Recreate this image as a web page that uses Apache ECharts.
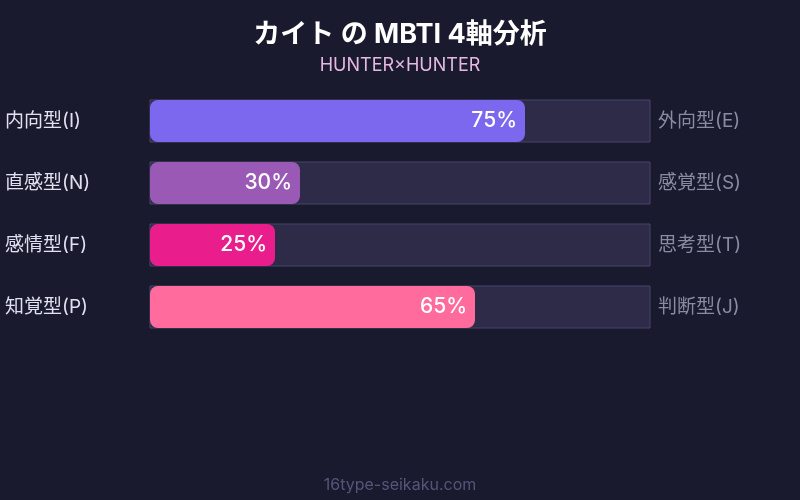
<!DOCTYPE html>
<html>
<head>
<meta charset="utf-8">
<script src="https://cdn.jsdelivr.net/npm/echarts@6/dist/echarts.min.js"></script>
<style>
  html, body { margin: 0; padding: 0; background: #1a1a2e; }
  #chart { width: 800px; height: 500px; }
</style>
</head>
<body>
<div id="chart"></div>
<script>
// 各軸のラベルと値
const leftLabels = ['内向型(I)', '直感型(N)', '感情型(F)', '知覚型(P)'];
const rightLabels = ['外向型(E)', '感覚型(S)', '思考型(T)', '判断型(J)'];
const values = [75, 30, 25, 65];

const barColors = ['#7b68ee', '#9b59b6', '#e91e8c', '#ff6b9d'];
const FONT = 'Inter, "Noto Sans CJK JP", sans-serif';

const chart = echarts.init(document.getElementById('chart'));

chart.setOption({
    backgroundColor: '#1a1a2e',
    animation: false,
    title: [
        {
            text: 'カイト の MBTI 4軸分析',
            left: 'center',
            top: 16,
            textStyle: { color: '#ffffff', fontSize: 27, fontWeight: 'bold', fontFamily: FONT }
        },
        {
            text: 'HUNTER×HUNTER',
            left: 'center',
            top: 52,
            textStyle: { color: '#e6b8e6', fontSize: 18, fontWeight: 'normal', fontFamily: FONT }
        },
        {
            text: '16type-seikaku.com',
            left: 'center',
            top: 472,
            textStyle: { color: '#55557a', fontSize: 16, fontWeight: 'normal', fontFamily: FONT }
        }
    ],
    grid: { left: 150, right: 150, top: 90, height: 248 },
    xAxis: {
        type: 'value',
        min: 0,
        max: 100,
        show: false
    },
    yAxis: [
        {
            type: 'category',
            data: leftLabels,
            inverse: true,
            position: 'left',
            axisLine: { show: false },
            axisTick: { show: false },
            axisLabel: {
                align: 'left',
                margin: 145,
                color: '#e0e0f0',
                fontSize: 19,
                fontFamily: FONT
            }
        },
        {
            type: 'category',
            data: rightLabels,
            inverse: true,
            position: 'right',
            axisLine: { show: false },
            axisTick: { show: false },
            axisLabel: {
                align: 'left',
                margin: 8,
                color: '#8a8aa2',
                fontSize: 19,
                fontFamily: FONT
            }
        }
    ],
    series: [{
        type: 'bar',
        yAxisIndex: 0,
        barWidth: 42,
        showBackground: true,
        backgroundStyle: {
            color: '#2d2b48',
            borderColor: '#46456a',
            borderWidth: 1
        },
        data: values.map((v, i) => ({
            value: v,
            itemStyle: { color: barColors[i], borderRadius: 8 }
        })),
        label: {
            show: true,
            position: 'insideRight',
            distance: 8,
            formatter: '{c}%',
            color: '#ffffff',
            fontSize: 21,
            fontWeight: 500,
            fontFamily: FONT
        }
    }]
});
</script>
</body>
</html>
